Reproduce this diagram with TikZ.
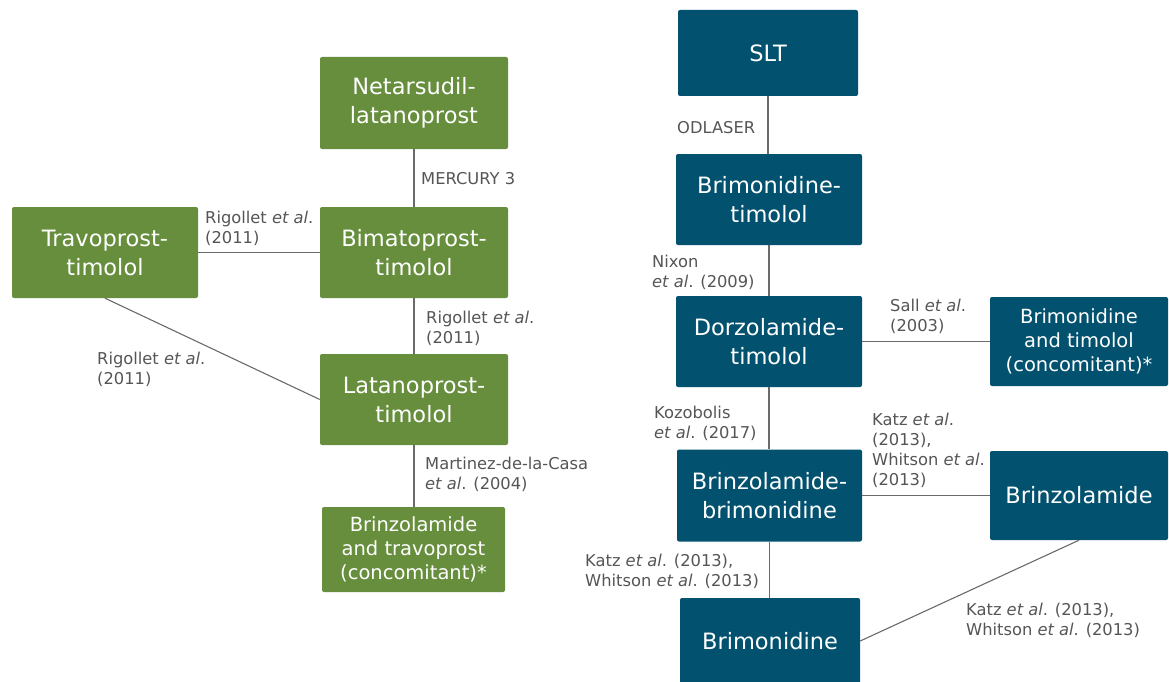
\documentclass[tikz,border=0pt]{standalone}
\usepackage{fontspec}
\setmainfont{DejaVu Sans}
\begin{document}
\definecolor{boxgreen}{HTML}{668E3C}
\definecolor{boxblue}{HTML}{01516F}
\definecolor{linkgrey}{HTML}{6A6A6A}
\definecolor{labelgrey}{HTML}{555555}
\begin{tikzpicture}[x=1pt,y=-1pt,
  drug/.style={rectangle, rounded corners=2pt, text=white, align=center,
    inner sep=0pt, font=\fontsize{22.5}{29}\selectfont},
  gbox/.style={drug, fill=boxgreen},
  bbox/.style={drug, fill=boxblue},
  small/.style={font=\fontsize{19.5}{24}\selectfont},
  link/.style={draw=linkgrey, line width=1.1pt},
  % labels are placed by the baseline of their last line
  ref/.style={text=labelgrey, align=left, anchor=base west, inner sep=0pt,
    font=\fontsize{16.3}{20}\selectfont}]
\useasboundingbox (0,0) rectangle (1169,682);

% --- prostaglandin combinations (left network)
\node[gbox, minimum width=188, minimum height=92] (netar) at (414,103) {Netarsudil-\\latanoprost};
\node[gbox, minimum width=188, minimum height=91] (bimat) at (414,252.5) {Bimatoprost-\\timolol};
\node[gbox, minimum width=186, minimum height=91] (travo) at (105,252.5) {Travoprost-\\timolol};
\node[gbox, minimum width=188, minimum height=91] (latan) at (414,399.5) {Latanoprost-\\timolol};
\node[gbox, small, minimum width=183, minimum height=85] (brtr) at (413.5,549.5) {Brinzolamide\\and travoprost\\(concomitant)*};

\draw[link] (netar.south) -- (netar.south |- bimat.north);
\draw[link] (travo) -- (bimat);
\draw[link] (bimat.south) -- (bimat.south |- latan.north);
\draw[link] (travo.south) -- (latan.west);
\draw[link] (latan.south) -- (latan.south |- brtr.north);

\node[ref] (l1) at (421,184) {MERCURY 3};
\node[ref] (l2) at (205,243) {Rigollet \textit{et al}.\\(2011)};
\node[ref] (l3) at (426,343) {Rigollet \textit{et al}.\\(2011)};
\node[ref] (l4) at (97,384) {Rigollet \textit{et al}.\\(2011)};
\node[ref] (l5) at (425,489) {Martinez-de-la-Casa\\\textit{et al}. (2004)};

% --- SLT and fixed combinations (right network)
\node[bbox, minimum width=180, minimum height=86] (slt) at (768,53) {SLT};
\node[bbox, minimum width=186, minimum height=91] (brtim) at (769,199.5) {Brimonidine-\\timolol};
\node[bbox, minimum width=186, minimum height=91] (dorz) at (769,341.5) {Dorzolamide-\\timolol};
\node[bbox, small, minimum width=178, minimum height=89] (brtic) at (1079,341.5) {Brimonidine\\and timolol\\(concomitant)*};
\node[bbox, minimum width=185, minimum height=92] (brbr) at (769.5,495.5) {Brinzolamide-\\brimonidine};
\node[bbox, minimum width=178, minimum height=89] (brinz) at (1079,495.5) {Brinzolamide};
\node[bbox, minimum width=180, minimum height=86] (brimo) at (770,641) {Brimonidine};

\draw[link] (slt.south) -- (slt.south |- brtim.north);
\draw[link] (brtim.south) -- (brtim.south |- dorz.north);
\draw[link] (dorz) -- (brtic);
\draw[link] (dorz.south) -- (dorz.south |- brbr.north);
\draw[link] (brbr) -- (brinz);
\draw[link] (brbr.south) -- (brbr.south |- brimo.north);
\draw[link] (brimo.east) -- (brinz.south);

\node[ref] (r1) at (677,133) {ODLASER};
\node[ref] (r2) at (652,287) {Nixon\\\textit{et al}. (2009)};
\node[ref] (r3) at (890,331) {Sall \textit{et al}.\\(2003)};
\node[ref] (r4) at (654,438) {Kozobolis\\\textit{et al}. (2017)};
\node[ref] (r5) at (872,485) {Katz \textit{et al}.\\(2013),\\Whitson \textit{et al}.\\(2013)};
\node[ref] (r6) at (585,586) {Katz \textit{et al}. (2013),\\Whitson \textit{et al}. (2013)};
\node[ref] (r7) at (966,635) {Katz \textit{et al}. (2013),\\Whitson \textit{et al}. (2013)};
\end{tikzpicture}
\end{document}
